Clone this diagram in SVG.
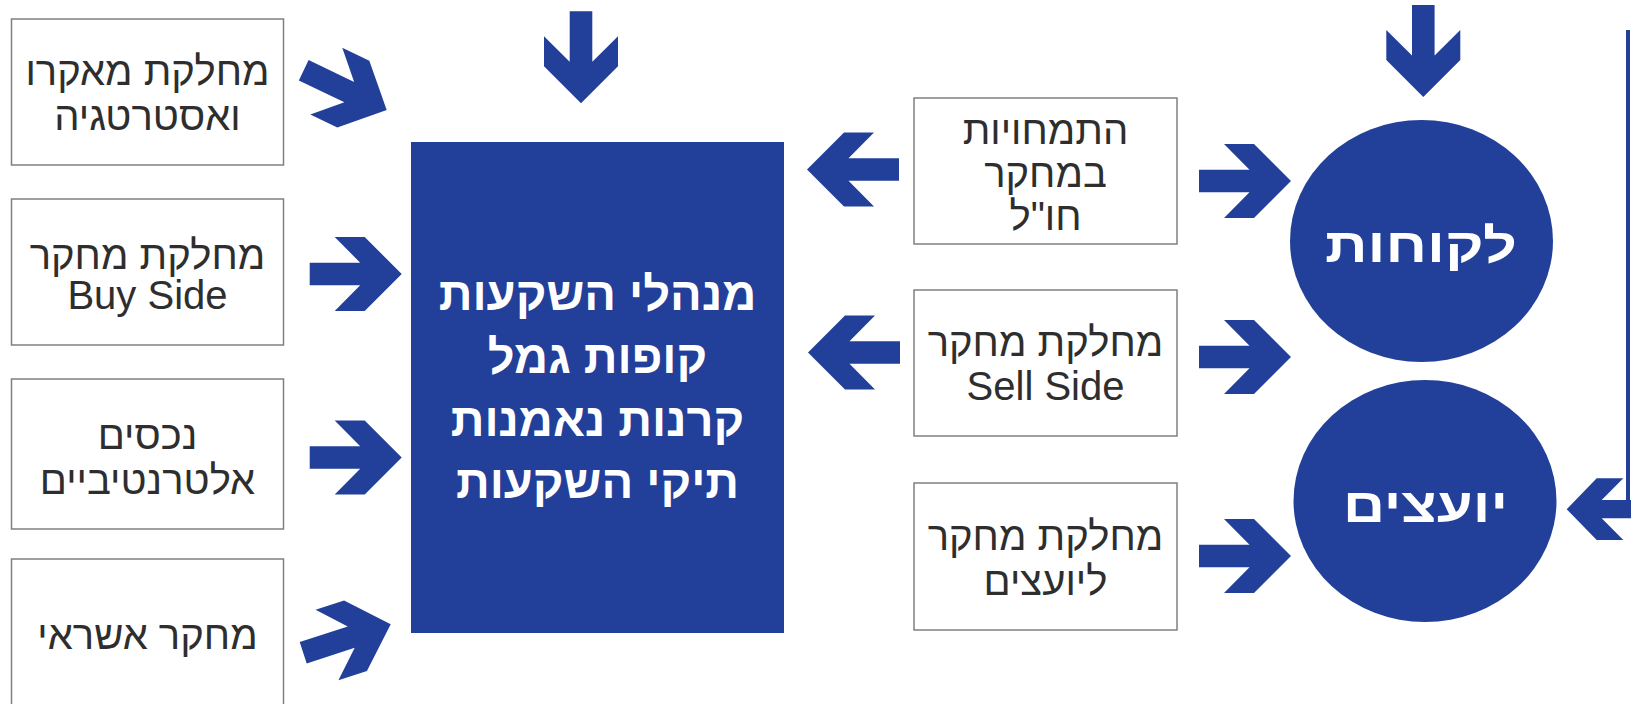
<svg xmlns="http://www.w3.org/2000/svg" width="1631" height="704" viewBox="0 0 1631 704">
<style>
.box{fill:#ffffff;stroke:#808080;stroke-width:1.5}
.lbl{font-family:"Liberation Sans",Arial,sans-serif;font-size:40px;fill:#2e2e2e;text-anchor:middle}
.blue{fill:#22409a}
.wt{font-family:"Liberation Sans",Arial,sans-serif;font-weight:bold;fill:#ffffff;text-anchor:middle}
</style>
<defs>
<path id="arr" d="M0 0 L-37 -37 L-67 -37 L-41.5 -11.3 L-92 -11.3 L-92 11.3 L-41.5 11.3 L-67 37 L-37 37 Z"/>
</defs>
<rect width="1631" height="704" fill="#ffffff"/>

<g id="n-macro"><rect class="box" x="11.5" y="19" width="272" height="146"/>
<text class="lbl" x="147.5" y="85">מחלקת מאקרו</text><text class="lbl" x="147.5" y="130">ואסטרטגיה</text></g>
<g id="n-buyside"><rect class="box" x="11.5" y="199" width="272" height="146"/>
<text class="lbl" x="147.5" y="269">מחלקת מחקר</text><text class="lbl" x="147.5" y="309">Buy Side</text></g>
<g id="n-alt"><rect class="box" x="11.5" y="379" width="272" height="150"/>
<text class="lbl" x="147.5" y="449">נכסים</text><text class="lbl" x="147.5" y="494">אלטרנטיביים</text></g>
<g id="n-credit"><rect class="box" x="11.5" y="559" width="272" height="150"/>
<text class="lbl" x="147.5" y="649">מחקר אשראי</text></g>

<g id="n-managers"><rect class="blue" x="411" y="142" width="373" height="491"/>
<text class="wt" font-size="47" x="597.5" y="310">מנהלי השקעות</text>
<text class="wt" font-size="47" x="597.5" y="373">קופות גמל</text>
<text class="wt" font-size="47" x="597.5" y="436">קרנות נאמנות</text>
<text class="wt" font-size="47" x="597.5" y="498">תיקי השקעות</text></g>

<g id="n-abroad"><rect class="box" x="914" y="98" width="263" height="146"/>
<text class="lbl" x="1045.5" y="144">התמחויות</text><text class="lbl" x="1045.5" y="187">במחקר</text><text class="lbl" x="1045.5" y="230">חו"ל</text></g>
<g id="n-sellside"><rect class="box" x="914" y="290" width="263" height="146"/>
<text class="lbl" x="1045.5" y="356">מחלקת מחקר</text><text class="lbl" x="1045.5" y="400">Sell Side</text></g>
<g id="n-advisors-research"><rect class="box" x="914" y="483" width="263" height="147"/>
<text class="lbl" x="1045.5" y="550">מחלקת מחקר</text><text class="lbl" x="1045.5" y="595">ליועצים</text></g>

<g id="n-clients"><ellipse class="blue" cx="1421.5" cy="241" rx="131.5" ry="121"/>
<text class="wt" font-size="48" x="1421" y="262" textLength="192" lengthAdjust="spacingAndGlyphs">לקוחות</text></g>
<g id="n-advisors"><ellipse class="blue" cx="1425" cy="501" rx="131.5" ry="121"/>
<text class="wt" font-size="48" x="1425.5" y="522" textLength="165" lengthAdjust="spacingAndGlyphs">יועצים</text></g>

<g id="connectors" class="blue">
<use href="#arr" transform="translate(386.7 110) rotate(25.6)"/>
<use href="#arr" transform="translate(401.7 274)"/>
<use href="#arr" transform="translate(401.7 457.5)"/>
<use href="#arr" transform="translate(390.7 624.3) rotate(-18)"/>
<use href="#arr" transform="translate(581 103.3) rotate(90)"/>
<use href="#arr" transform="translate(1423.3 97) rotate(90)"/>
<use href="#arr" transform="translate(807 169.5) rotate(180)"/>
<use href="#arr" transform="translate(808 352.5) rotate(180)"/>
<use href="#arr" transform="translate(1291 181)"/>
<use href="#arr" transform="translate(1291 357)"/>
<use href="#arr" transform="translate(1291 556)"/>
<path d="M1566.7 509.3 L1596.7 478.3 L1623.3 478.3 L1601.7 500 L1626 500 L1626 30 L1630 30 L1630 500 L1631 500 L1631 518.3 L1601.7 518.3 L1623.3 540 L1596.7 540 Z"/>
</g>
</svg>
